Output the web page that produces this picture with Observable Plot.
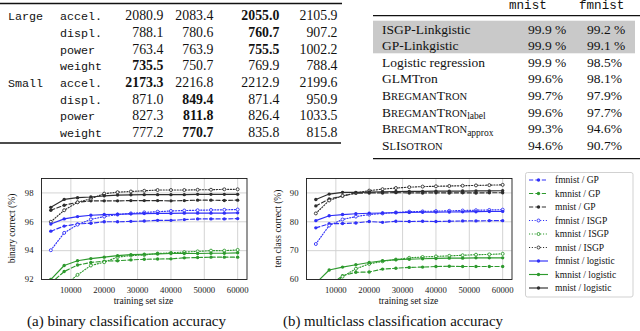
<!DOCTYPE html>
<html><head><meta charset="utf-8">
<script src="https://cdn.jsdelivr.net/npm/d3@7"></script>
<script src="https://cdn.jsdelivr.net/npm/@observablehq/plot@0.6"></script>
<style>
html,body{margin:0;padding:0;background:#fff;}
#root{position:relative;width:640px;height:331px;overflow:hidden;font-family:"Liberation Serif",serif;}
.pw{position:absolute;}
#overlay{position:absolute;left:0;top:0;}
</style></head><body><div id="root"></div>
<script>
// ---------- data: left table ----------
const leftGroups = ["Large", "", "", "", "Small", "", "", ""];
const leftFeatures = ["accel.", "displ.", "power", "weight", "accel.", "displ.", "power", "weight"];
const leftCol1 = ["2080.9", "788.1", "763.4", "735.5", "2173.3", "871.0", "827.3", "777.2"];
const leftCol2 = ["2083.4", "780.6", "763.9", "750.7", "2216.8", "849.4", "811.8", "770.7"];
const leftCol3 = ["2055.0", "760.7", "755.5", "769.9", "2212.9", "871.4", "826.4", "835.8"];
const leftCol4 = ["2105.9", "907.2", "1002.2", "788.4", "2199.6", "950.9", "1033.5", "815.8"];
const leftBold1 = [3, 4], leftBold2 = [5, 6, 7], leftBold3 = [0, 1, 2], leftBold4 = [];

// ---------- data: right table ----------
const rightHeader = ["mnist", "fmnist"];
const rightMethods = ["ISGP-Linkgistic", "GP-Linkgistic", "Logistic regression", "GLMTron", "BregmanTron", "BregmanTron|label", "BregmanTron|approx", "SlIsotron"];
const rightMnist = ["99.9 %", "99.9 %", "99.9 %", "99.6%", "99.7%", "99.6%", "99.3%", "94.6%"];
const rightFmnist = ["99.2 %", "99.1 %", "98.5%", "98.1%", "97.9%", "97.7%", "94.6%", "90.7%"];

// ---------- data: charts ----------
const trainSizes = [4000, 8000, 12000, 16000, 20000, 24000, 28000, 32000, 36000, 40000, 44000, 48000, 52000, 56000, 60000];
const xTicks = [10000, 20000, 30000, 40000, 50000, 60000];

const binFmnistGP = [95.35, 95.7, 95.85, 95.9, 96.0, 96.0, 96.03, 96.05, 96.1, 96.1, 96.15, 96.2, 96.2, 96.2, 96.22];
const binKmnistGP = [91.75, 92.55, 93.0, 93.18, 93.27, 93.3, 93.36, 93.4, 93.42, 93.43, 93.5, 93.52, 93.55, 93.55, 93.55];
const binMnistGP = [96.8, 97.15, 97.35, 97.45, 97.45, 97.45, 97.47, 97.47, 97.47, 97.45, 97.47, 97.5, 97.5, 97.48, 97.5];
const binFmnistISGP = [94.03, 95.23, 95.8, 96.17, 96.36, 96.5, 96.58, 96.65, 96.7, 96.75, 96.78, 96.8, 96.82, 96.83, 96.85];
const binKmnistISGP = [89.5, 91.57, 92.32, 92.97, 93.2, 93.55, 93.66, 93.7, 93.8, 93.85, 93.9, 93.95, 94.0, 94.0, 94.05];
const binMnistISGP = [96.0, 96.8, 97.35, 97.6, 97.95, 98.05, 98.1, 98.15, 98.2, 98.2, 98.2, 98.22, 98.22, 98.25, 98.25];
const binFmnistLogistic = [95.85, 96.2, 96.36, 96.45, 96.5, 96.52, 96.55, 96.57, 96.58, 96.58, 96.6, 96.6, 96.6, 96.6, 96.62];
const binKmnistLogistic = [92.0, 92.97, 93.3, 93.45, 93.55, 93.65, 93.72, 93.75, 93.78, 93.8, 93.8, 93.8, 93.82, 93.82, 93.85];
const binMnistLogistic = [97.0, 97.55, 97.67, 97.72, 97.8, 97.85, 97.87, 97.88, 97.88, 97.88, 97.88, 97.9, 97.9, 97.9, 97.9];
const binYTicks = [92, 94, 96, 98];

const tenFmnistGP = [77.9, 79.3, 79.4, 79.6, 80.1, 79.8, 80.2, 80.1, 80.2, 80.1, 80.2, 80.3, 80.3, 80.4, 80.4];
const tenKmnistGP = [55.0, 57.8, 61.3, 62.5, 62.6, 63.6, 63.9, 64.2, 64.3, 64.5, 64.6, 64.5, 64.5, 64.5, 64.5];
const tenMnistGP = [85.5, 87.9, 88.9, 89.9, 90.0, 90.0, 90.1, 90.0, 90.0, 90.05, 90.0, 90.05, 90.0, 90.05, 90.05];
const tenFmnistISGP = [72.3, 78.7, 80.8, 81.8, 82.5, 82.9, 83.2, 83.5, 83.6, 83.7, 83.8, 83.9, 84.0, 84.1, 84.2];
const tenKmnistISGP = [50.0, 57.0, 61.0, 63.7, 65.4, 66.3, 66.9, 67.5, 67.8, 68.0, 68.2, 68.4, 68.6, 68.7, 68.9];
const tenMnistISGP = [82.9, 87.4, 89.0, 90.0, 90.8, 91.3, 91.7, 92.0, 92.2, 92.3, 92.4, 92.5, 92.6, 92.7, 92.8];
const tenFmnistLogistic = [80.4, 82.1, 82.5, 82.8, 82.95, 83.05, 83.2, 83.25, 83.3, 83.35, 83.4, 83.45, 83.5, 83.55, 83.6];
const tenKmnistLogistic = [58.7, 63.3, 64.3, 65.1, 65.9, 66.5, 66.9, 67.0, 67.2, 67.3, 67.4, 67.4, 67.5, 67.5, 67.5];
const tenMnistLogistic = [87.7, 89.6, 90.2, 90.2, 90.3, 90.4, 90.5, 90.55, 90.55, 90.6, 90.6, 90.65, 90.7, 90.7, 90.75];
const tenYTicks = [60, 70, 80, 90];

const datasets = ["fmnist", "kmnist", "mnist"];
const methods = ["GP", "ISGP", "logistic"];
const legendOrder = [["fmnist","GP"],["kmnist","GP"],["mnist","GP"],["fmnist","ISGP"],["kmnist","ISGP"],["mnist","ISGP"],["fmnist","logistic"],["kmnist","logistic"],["mnist","logistic"]];

// ---------- styling ----------
const colors = {fmnist: "#3030f8", kmnist: "#2e9a2e", mnist: "#2e2e2e"};
const dashes = {GP: "4.2,2.2", ISGP: "1.1,1.7", logistic: null};
const SERIF = "Liberation Serif, serif";
const MONO = "Liberation Mono, monospace";

const binSeries = {fmnist: {GP: binFmnistGP, ISGP: binFmnistISGP, logistic: binFmnistLogistic},
                   kmnist: {GP: binKmnistGP, ISGP: binKmnistISGP, logistic: binKmnistLogistic},
                   mnist: {GP: binMnistGP, ISGP: binMnistISGP, logistic: binMnistLogistic}};
const tenSeries = {fmnist: {GP: tenFmnistGP, ISGP: tenFmnistISGP, logistic: tenFmnistLogistic},
                   kmnist: {GP: tenKmnistGP, ISGP: tenKmnistISGP, logistic: tenKmnistLogistic},
                   mnist: {GP: tenMnistGP, ISGP: tenMnistISGP, logistic: tenMnistLogistic}};

function toRows(series) {
  const rows = [];
  for (const d of datasets) for (const m of methods)
    series[d][m].forEach((v, i) => rows.push({size: trainSizes[i], value: v, dataset: d, method: m, key: d + "/" + m}));
  return rows;
}

function makeChart(series, yDomain, yTicks, left, marginLeft) {
  const rows = toRows(series);
  const marks = [
    Plot.gridX(xTicks, {stroke: "#cfcfcf", strokeOpacity: 1, strokeWidth: 0.9}),
    Plot.gridY(yTicks, {stroke: "#cfcfcf", strokeOpacity: 1, strokeWidth: 0.9}),
  ];
  for (const m of methods) {
    const sub = rows.filter(r => r.method === m);
    marks.push(Plot.line(sub, {x: "size", y: "value", z: "key", stroke: "dataset", strokeWidth: 1.15,
      strokeDasharray: dashes[m] || undefined, clip: true}));
    if (m === "ISGP")
      marks.push(Plot.dot(sub, {x: "size", y: "value", stroke: "dataset", fill: "white", r: 1.5, strokeWidth: 0.9, clip: true}));
    else
      marks.push(Plot.dot(sub, {x: "size", y: "value", fill: "dataset", r: 1.7, clip: true}));
  }
  marks.push(Plot.frame({stroke: "#1a1a1a", strokeWidth: 0.9}));
  marks.push(Plot.axisX({ticks: xTicks, tickSize: 0, tickPadding: 7, tickFormat: d => String(d), label: null}));
  marks.push(Plot.axisY({ticks: yTicks, tickSize: 0, tickPadding: 8, tickFormat: d => String(d), label: null}));
  const p = Plot.plot({
    width: 255, height: 140,
    marginLeft, marginRight: 255 - marginLeft - 205.5, marginTop: 8, marginBottom: 31,
    x: {domain: [1200, 62800]},
    y: {domain: yDomain},
    color: {domain: datasets, range: datasets.map(d => colors[d])},
    style: {fontFamily: SERIF, fontSize: "8.7px", color: "#222", background: "transparent", overflow: "visible"},
    marks
  });
  const wrap = document.createElement("div");
  wrap.className = "pw";
  wrap.style.left = left + "px";
  wrap.style.top = "170px";
  wrap.appendChild(p);
  document.getElementById("root").appendChild(wrap);
}

makeChart(binSeries, [92, 99], binYTicks, 0, 41);
makeChart(tenSeries, [60, 95], tenYTicks, 264, 42);

// ---------- overlay: tables, labels, captions, legend ----------
const svg = d3.select("#root").append("svg").attr("id", "overlay").attr("width", 640).attr("height", 331);

function text(x, y, s, o = {}) {
  return svg.append("text").attr("x", x).attr("y", y).text(s)
    .attr("font-family", o.family || SERIF).attr("font-size", o.size || 13.5)
    .attr("font-weight", o.bold ? "bold" : null)
    .attr("text-anchor", o.anchor || "start").attr("fill", o.fill || "#111")
    .attr("transform", o.rotate ? `rotate(-90 ${x} ${y})` : null)
    .attr("textLength", o.len || null).attr("lengthAdjust", o.len ? "spacingAndGlyphs" : null);
}
function rule(x1, x2, y, w) {
  svg.append("line").attr("x1", x1).attr("x2", x2).attr("y1", y).attr("y2", y).attr("stroke", "#111").attr("stroke-width", w);
}

// left table
rule(0, 342, 3.5, 1.3);
rule(0, 341, 143, 1.3);
const leftCols = [leftCol1, leftCol2, leftCol3, leftCol4];
const leftBolds = [leftBold1, leftBold2, leftBold3, leftBold4];
const leftRights = [163.3, 213.3, 279.3, 337.5];
for (let i = 0; i < 8; i++) {
  const y = 20.2 + i * 16.67;
  if (leftGroups[i]) text(8, y, leftGroups[i], {family: MONO, size: 11.7});
  text(60, y, leftFeatures[i], {family: MONO, size: 11.7});
  leftCols.forEach((col, c) => text(leftRights[c], y, col[i], {anchor: "end", bold: leftBolds[c].includes(i), size: 13.8}));
}

// right table
svg.append("rect").attr("x", 373).attr("y", 20.7).attr("width", 262).attr("height", 32.6).attr("fill", "#c9c9c9");
text(509, 8.6, rightHeader[0], {family: MONO, size: 12.6});
text(579, 8.6, rightHeader[1], {family: MONO, size: 12.6});
rule(373, 640, 15.7, 1.3);
rule(373, 640, 158.6, 1.3);
function smallCaps(t, word, size) {
  for (const ch of word) {
    const up = ch === ch.toUpperCase();
    t.append("tspan").attr("font-size", up ? size : size * 0.78).text(ch.toUpperCase());
  }
}
for (let i = 0; i < 8; i++) {
  const y = 33.5 + i * 16.6;
  const m = rightMethods[i];
  if (m.startsWith("BregmanTron") || m === "SlIsotron") {
    const [w, sub] = m.split("|");
    const t = svg.append("text").attr("x", 382).attr("y", y).attr("font-family", SERIF).attr("font-size", 13.5).attr("fill", "#111");
    smallCaps(t, w, 13.5);
    if (sub) t.append("tspan").attr("font-size", 9.5).attr("dy", 2.5).text(sub);
  } else {
    text(382, y, m, {size: 13.5});
  }
  text(528, y, rightMnist[i], {size: 13.5});
  text(587, y, rightFmnist[i], {size: 13.5});
}

// axis labels
text(15, 228.5, "binary correct (%)", {size: 9.5, rotate: true, anchor: "middle"});
text(280.5, 228.5, "ten class correct (%)", {size: 9.5, rotate: true, anchor: "middle"});
text(143.5, 304, "training set size", {size: 9.5, anchor: "middle"});
text(408.5, 304, "training set size", {size: 9.5, anchor: "middle"});

// captions
text(27, 326, "(a) binary classification accuracy", {size: 14, len: 199});
text(283, 326, "(b) multiclass classification accuracy", {size: 14, len: 220});

// legend
svg.append("rect").attr("x", 525.5).attr("y", 172.5).attr("width", 107.5).attr("height", 124.5)
  .attr("rx", 2).attr("fill", "white").attr("stroke", "#cccccc").attr("stroke-width", 0.9);
legendOrder.forEach(([d, m], i) => {
  const y = 180 + i * 13.5;
  svg.append("line").attr("x1", 529).attr("x2", 548).attr("y1", y).attr("y2", y)
    .attr("stroke", colors[d]).attr("stroke-width", 1.15).attr("stroke-dasharray", dashes[m]);
  svg.append("circle").attr("cx", 538.5).attr("cy", y).attr("r", m === "ISGP" ? 1.5 : 1.7)
    .attr("fill", m === "ISGP" ? "white" : colors[d]).attr("stroke", m === "ISGP" ? colors[d] : "none").attr("stroke-width", 0.9);
  text(555, y + 3, `${d} / ${m}`, {size: 9.5});
});
</script></body></html>
